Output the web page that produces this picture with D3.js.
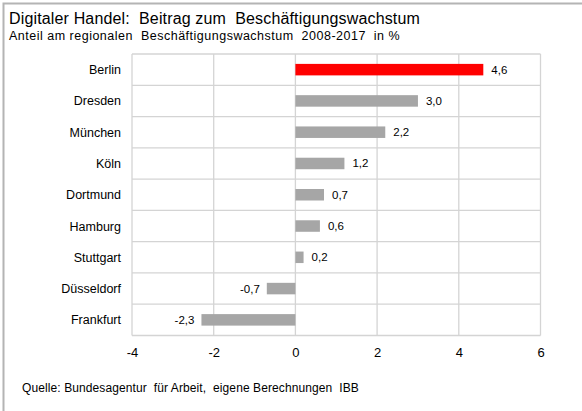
<!DOCTYPE html>
<html>
<head>
<meta charset="utf-8">
<script src="https://cdn.jsdelivr.net/npm/d3@7"></script>
<style>
    body { margin: 0; background: #fff; }
    text { font-family: "Liberation Sans", Arial, sans-serif; fill: #000; white-space: pre; }
</style>
</head>
<body>
<div id="chart"></div>
<script>
const cities = ["Berlin", "Dresden", "München", "Köln", "Dortmund", "Hamburg", "Stuttgart", "Düsseldorf", "Frankfurt"]
const values = [4.6, 3.0, 2.2, 1.2, 0.7, 0.6, 0.2, -0.7, -2.3]
const highlight = "Berlin"
const xTicks = [-4, -2, 0, 2, 4, 6]

const width = 582, height = 411
const margin = { top: 54, right: 41.5, bottom: 75.5, left: 132 }

const svg = d3.select("#chart")
    .append("svg")
    .attr("width", width)
    .attr("height", height)

// frame (only left and top edges are visible)
svg.append("path")
    .attr("d", `M3.5,${height} V3.5 H${width}`)
    .attr("fill", "none")
    .attr("stroke", "#b4b4b4")
    .attr("stroke-width", 2)

svg.append("text")
    .attr("x", 9).attr("y", 24)
    .style("font-size", "16px")
    .style("letter-spacing", "0.15px")
    .text("Digitaler Handel:  Beitrag zum  Beschäftigungswachstum")

svg.append("text")
    .attr("x", 9).attr("y", 40)
    .style("font-size", "12.5px")
    .style("letter-spacing", "0.5px")
    .text("Anteil am regionalen  Beschäftigungswachstum  2008-2017  in %")

const x = d3.scaleLinear()
    .domain([-4, 6])
    .range([margin.left, width - margin.right])

const y = d3.scaleBand()
    .domain(cities)
    .range([margin.top, height - margin.bottom])

const plot = svg.append("g")

// horizontal grid lines (row separators)
plot.selectAll(".hgrid")
    .data(cities.map(c => y(c)).concat([y.range()[1]]))
    .join("line")
    .attr("x1", x(-4)).attr("x2", x(6))
    .attr("y1", d => d).attr("y2", d => d)
    .attr("stroke", "#d4d4d4")
    .attr("stroke-width", 1.3)

// vertical grid lines
plot.selectAll(".vgrid")
    .data(xTicks)
    .join("line")
    .attr("x1", d => x(d)).attr("x2", d => x(d))
    .attr("y1", y.range()[0]).attr("y2", y.range()[1])
    .attr("stroke", "#d4d4d4")
    .attr("stroke-width", 1.3)

const barH = 11.5

plot.selectAll(".bar")
    .data(cities)
    .join("rect")
    .attr("x", (d, i) => x(Math.min(0, values[i])))
    .attr("y", d => y(d) + y.bandwidth() / 2 - barH / 2)
    .attr("width", (d, i) => Math.abs(x(values[i]) - x(0)))
    .attr("height", barH)
    .attr("fill", d => d === highlight ? "#ff0000" : "#a6a6a6")

const fmt = v => d3.format(".1f")(v).replace(".", ",").replace("−", "-")

plot.selectAll(".val")
    .data(cities)
    .join("text")
    .attr("x", (d, i) => values[i] >= 0 ? x(values[i]) + 8 : x(values[i]) - 7)
    .attr("y", d => y(d) + y.bandwidth() / 2 + 4)
    .attr("text-anchor", (d, i) => values[i] >= 0 ? "start" : "end")
    .style("font-size", "11.5px")
    .text((d, i) => fmt(values[i]))

// category labels
svg.selectAll(".cat")
    .data(cities)
    .join("text")
    .attr("x", 121)
    .attr("y", d => y(d) + y.bandwidth() / 2 + 4.5)
    .attr("text-anchor", "end")
    .style("font-size", "12.5px")
    .text(d => d)

// x axis
const xAxis = svg.append("g")
    .attr("transform", `translate(0,${y.range()[1]})`)
    .call(d3.axisBottom(x).tickValues(xTicks).tickSize(0).tickPadding(12).tickFormat(d => String(d)))
xAxis.select(".domain").remove()
xAxis.selectAll("text").style("font-size", "13px").attr("font-family", null)

svg.append("text")
    .attr("x", 22).attr("y", 392)
    .style("font-size", "12px")
    .style("letter-spacing", "0.1px")
    .text("Quelle: Bundesagentur  für Arbeit,  eigene Berechnungen  IBB")
</script>
</body>
</html>
